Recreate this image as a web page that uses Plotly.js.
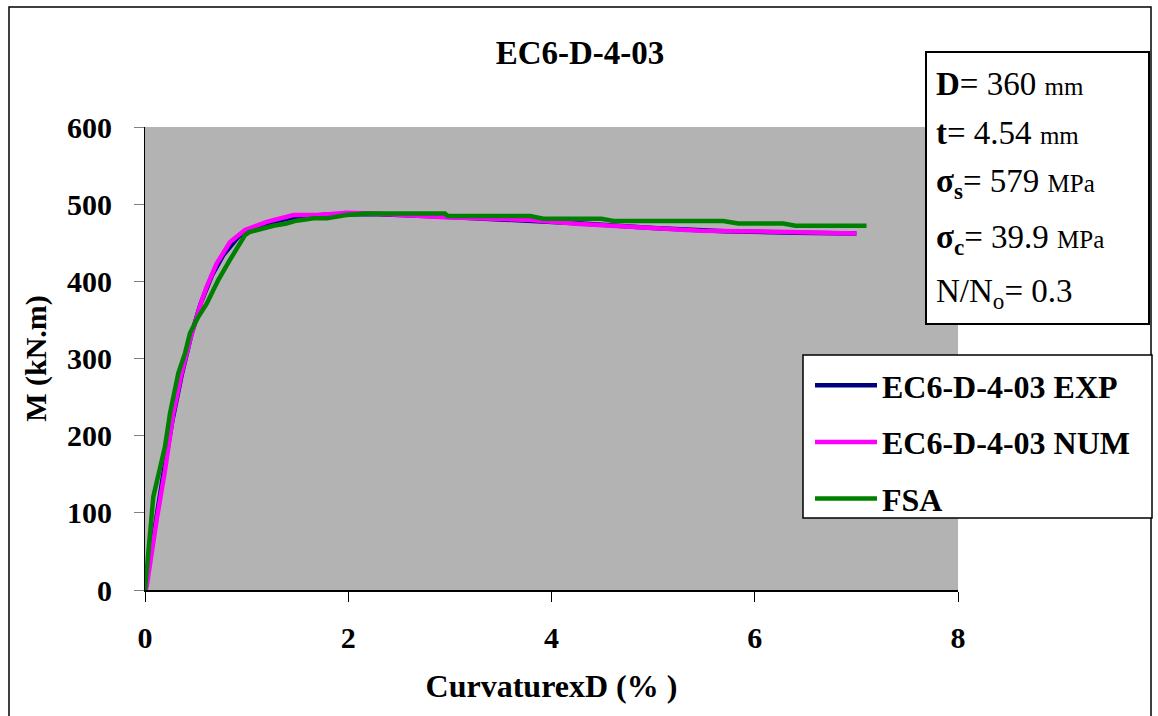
<!DOCTYPE html>
<html>
<head>
<meta charset="utf-8">
<script src="https://cdn.plot.ly/plotly-3.0.1.min.js"></script>
<style>html,body{margin:0;padding:0;background:#fff;overflow:hidden;}#chart{width:1158px;height:716px;overflow:hidden;}</style>
</head>
<body>
<div id="chart"></div>
<script>
// Curvature x D (%) and moment M (kN.m)
const expX = [0, 0.09, 0.18, 0.27, 0.36, 0.46, 0.55, 0.66, 0.77, 0.92, 1.02, 1.22, 1.5, 1.85, 2.3, 2.9, 3.6, 4.3, 5.0, 5.7, 6.4, 7.0];
const expY = [0, 80, 150, 220, 278, 333, 372, 408, 434, 458, 466, 476, 484, 487, 487, 484, 480, 475, 469, 465, 463, 462];

const numX = [0, 0.016, 0.115, 0.197, 0.279, 0.361, 0.443, 0.525, 0.56, 0.607, 0.705, 0.837, 0.984, 1.198, 1.46, 1.72, 1.98, 2.25, 2.95, 3.79, 4.28, 4.77, 5.46, 6.32, 7.0];
const numY = [0, 4, 91, 155, 229, 281, 324, 362, 376, 393, 423, 451, 466.5, 477, 486, 486, 489, 488, 483, 479.5, 474.3, 470.8, 465.7, 464, 462];

const fsaX = [0, 0.082, 0.197, 0.246, 0.328, 0.394, 0.443, 0.525, 0.607, 0.722, 0.837, 0.984, 1.03, 1.165, 1.263, 1.39, 1.49, 1.66, 1.79, 1.98, 2.18, 2.51, 2.95, 2.98, 3.79, 3.92, 4.49, 4.61, 5.69, 5.84, 6.28, 6.40, 7.10];
const fsaY = [0, 121, 186, 229, 281, 307, 333, 354, 371, 402, 428, 460, 464, 469, 472, 475, 478.6, 481.6, 481.6, 486, 488, 488, 488, 484.6, 484.6, 481.2, 481.2, 478.2, 478.2, 475, 475, 472, 472];

const seriesNames = ["EC6-D-4-03 EXP", "EC6-D-4-03 NUM", "FSA"];
const seriesColors = ["#000080", "#FF00FF", "#008000"];
const chartTitle = "EC6-D-4-03";
const xTitle = "CurvaturexD (% )";
const yTitle = "M (kN.m)";
const xTicks = [0, 2, 4, 6, 8];
const yTicks = [0, 100, 200, 300, 400, 500, 600];
const infoLines = [
  "<b>D</b>= 360 <span style='font-size:25px'>mm</span>",
  "<b>t</b>= 4.54 <span style='font-size:25px'>mm</span>",
  "<b>σ<sub>s</sub></b>= 579 <span style='font-size:25px'>MPa</span>",
  "<b>σ<sub>c</sub></b>= 39.9 <span style='font-size:25px'>MPa</span>",
  "N/N<sub>o</sub>= 0.3"
];

const FONT = "'Liberation Serif', serif";

const traces = [
  {x: expX, y: expY, name: seriesNames[0], mode: "lines", legendgroup: "a",
   line: {color: seriesColors[0], width: 4.5}},
  {x: numX, y: numY, name: seriesNames[1], mode: "lines", legendgroup: "b",
   line: {color: seriesColors[1], width: 4.5}},
  {x: fsaX, y: fsaY, name: seriesNames[2], mode: "lines", legendgroup: "c",
   line: {color: seriesColors[2], width: 4.5}}
];

// pixel -> paper helpers (plot area 145..958 x, 127..590 y)
const px = v => (v - 145) / 813;
const py = v => (590 - v) / 463;

const infoY = [84, 133, 184, 239, 293];
const annotations = infoLines.map((t, i) => ({
  text: t, xref: "paper", yref: "paper", x: px(934), y: py(infoY[i]),
  xanchor: "left", yanchor: "middle", showarrow: false,
  font: {family: FONT, size: 33, color: "#000"}
}));

const layout = {
  width: 1158, height: 716,
  margin: {l: 145, r: 200, t: 127, b: 126},
  paper_bgcolor: "#ffffff",
  plot_bgcolor: "#b3b3b3",
  font: {family: FONT, color: "#000"},
  title: {text: "<b>" + chartTitle + "</b>", x: 0.5009, xref: "container", y: 1 - 52/716, yref: "container",
          xanchor: "center", yanchor: "middle", font: {family: FONT, size: 33, color: "#000"}},
  xaxis: {
    range: [0, 8], tickvals: xTicks, ticktext: xTicks.map(String),
    showgrid: false, zeroline: false, showline: true, linecolor: "#000", linewidth: 2,
    ticks: "outside", ticklen: 10, tickcolor: "#000", tickwidth: 1,
    tickfont: {family: FONT, size: 30, color: "#000", weight: "bold"},
    ticklabelstandoff: 10,
    title: {text: "<b>" + xTitle + "</b>", font: {family: FONT, size: 32, color: "#000"}, standoff: 22}
  },
  yaxis: {
    range: [0, 600], tickvals: yTicks, ticktext: yTicks.map(String),
    showgrid: false, zeroline: false, showline: true, linecolor: "#000", linewidth: 1,
    ticks: "outside", ticklen: 10, tickcolor: "#808080", tickwidth: 1,
    tickfont: {family: FONT, size: 30, color: "#000", weight: "bold"},
    ticklabelstandoff: 16,
    title: {text: "<b>" + yTitle + "</b>", font: {family: FONT, size: 30, color: "#000"}, standoff: 11}
  },
  showlegend: true,
  legend: {
    x: px(810), y: py(358), xanchor: "left", yanchor: "top",
    bgcolor: "rgba(0,0,0,0)", borderwidth: 0,
    font: {family: FONT, size: 32, color: "#000", weight: "bold"},
    tracegroupgap: 12, itemwidth: 62
  },
  shapes: [
    {type: "rect", xref: "paper", yref: "paper", x0: px(9), x1: px(1151), y0: py(760), y1: py(7),
     line: {color: "#000", width: 1.5}, fillcolor: "rgba(0,0,0,0)", layer: "below"},
    {type: "rect", xref: "paper", yref: "paper", x0: px(803), x1: px(1152), y0: py(518), y1: py(355),
     line: {color: "#000", width: 1.5}, fillcolor: "#ffffff", layer: "above"},
    {type: "rect", xref: "paper", yref: "paper", x0: px(926), x1: px(1149), y0: py(324), y1: py(52),
     line: {color: "#000", width: 2}, fillcolor: "#ffffff", layer: "above"}
  ],
  annotations: annotations
};

Plotly.newPlot("chart", traces, layout, {displayModeBar: false, staticPlot: true});
</script>
</body>
</html>
